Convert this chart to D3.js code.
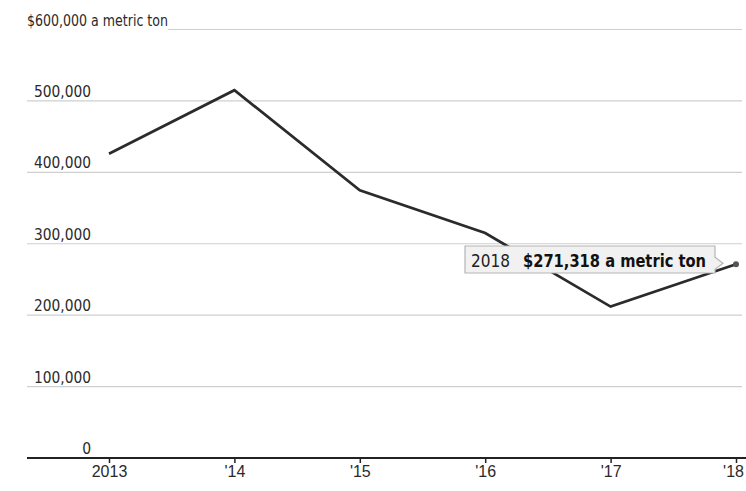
<!DOCTYPE html>
<html><head><meta charset="utf-8">
<script src="https://cdn.jsdelivr.net/npm/d3@7"></script>
<style>
body{margin:0;background:#fff;}
svg{display:block;font-family:"DejaVu Sans Condensed","DejaVu Sans",sans-serif;font-stretch:condensed;}
</style></head>
<body><svg id="c" width="746" height="491"></svg>
<script>
const years = [2013, 2014, 2015, 2016, 2017, 2018];
const yearLabels = ["2013", "'14", "'15", "'16", "'17", "'18"];
const prices = [426000, 515000, 375000, 315000, 212000, 271318];
const yTicks = [0, 100000, 200000, 300000, 400000, 500000, 600000];
const annotationYear = "2018";
const annotationValue = "$271,318 a metric ton";
const yUnit = " a metric ton";

const svg = d3.select("#c");
const x = d3.scaleLinear().domain([2013, 2018]).range([109, 736]);
const y = d3.scaleLinear().domain([0, 600000]).range([458, 29.5]);
const fmt = d3.format(",");

// gridlines
svg.append("g").selectAll("line").data(yTicks.filter(d => d > 0)).join("line")
  .attr("x1", d => d === 600000 ? 168 : 27).attr("x2", 742)
  .attr("y1", d => y(d)).attr("y2", d => y(d))
  .attr("stroke", "#cfcfcf").attr("stroke-width", 1.2);

// y labels
svg.append("g").selectAll("text").data(yTicks).join("text")
  .attr("x", d => d === 600000 ? 27 : 91)
  .attr("y", d => y(d) - 4)
  .attr("text-anchor", d => d === 600000 ? "start" : "end")
  .attr("font-size", 15.5).attr("fill", "#2a2a2a")
  .attr("textLength", d => d === 600000 ? 141 : 57)
  .attr("lengthAdjust", "spacingAndGlyphs")
  .attr("textLength", d => d === 600000 ? 141 : (d === 0 ? null : 57))
  .text(d => d === 600000 ? "$" + fmt(d) + yUnit : fmt(d));

// x axis
const xAxis = d3.axisBottom(x).tickValues(years).tickSize(5).tickPadding(3)
  .tickFormat((d, i) => yearLabels[i]);
const gx = svg.append("g").attr("transform", "translate(0,458)").call(xAxis);
gx.select(".domain").attr("d", "M27,0H746").attr("stroke", "#222").attr("stroke-width", 2);
gx.selectAll(".tick line").attr("stroke", "#222").attr("stroke-width", 1.5);
gx.selectAll(".tick text").attr("font-size", 16).attr("fill", "#2a2a2a")
  .attr("font-family", null)
  .attr("dx", (d, i) => i === years.length - 1 ? -3 : 0);

// line
const line = d3.line().x((d, i) => x(years[i])).y(d => y(d));
svg.append("path").datum(prices).attr("d", line)
  .attr("fill", "none").attr("stroke", "#2b2b2b").attr("stroke-width", 2.7)
  .attr("stroke-linejoin", "miter");

// end dot
const lx = x(years[5]), ly = y(prices[5]);
svg.append("circle").attr("cx", lx).attr("cy", ly).attr("r", 3).attr("fill", "#555");

// callout
const bx0 = 465, bx1 = 715, by0 = 246, by1 = 273, tipX = 723, tipY = ly - 1;
svg.append("path")
  .attr("d", `M${bx0},${by0}H${bx1}V${tipY - 6}L${tipX},${tipY}L${bx1},${tipY + 6}V${by1}H${bx0}Z`)
  .attr("fill", "#f1f1f1").attr("stroke", "#b5b5b5").attr("stroke-width", 1.2);
svg.append("text").attr("x", 471).attr("y", 267).attr("font-size", 18.5).attr("fill", "#222")
  .attr("textLength", 39).attr("lengthAdjust", "spacingAndGlyphs").text(annotationYear);
svg.append("text").attr("x", 523).attr("y", 267).attr("font-size", 18.5).attr("fill", "#111")
  .attr("font-weight", "bold").attr("textLength", 183).attr("lengthAdjust", "spacingAndGlyphs")
  .text(annotationValue);
</script></body></html>
